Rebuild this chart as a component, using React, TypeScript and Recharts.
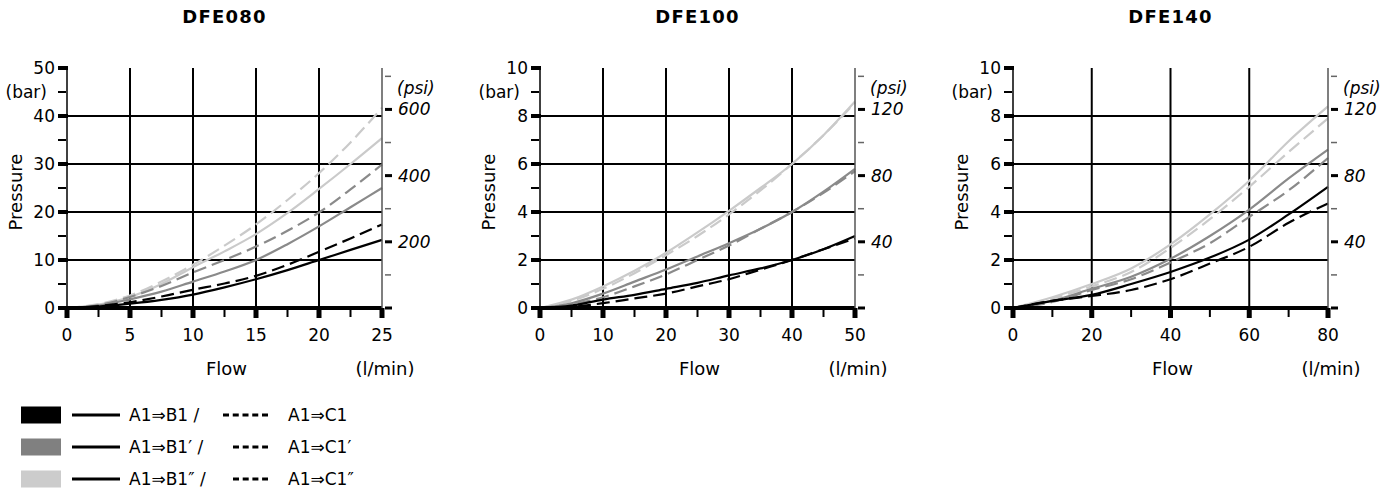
import { LineChart, Line, XAxis, YAxis, ReferenceLine } from "recharts";

// flow points (l/min) and pressure readings (bar) per valve size
const FLOW_080 = [0, 2.5, 5, 7.5, 10, 12.5, 15, 17.5, 20, 22.5, 25];
const B1_080 = [0, 0.3, 0.9, 1.7, 2.8, 4.3, 6, 7.9, 10, 12.1, 14.2];
const C1_080 = [0, 0.4, 1.2, 2.4, 3.8, 5.1, 6.7, 9, 11.7, 14.5, 17.4];
const B1P_080 = [0, 0.5, 1.8, 3.4, 5.5, 7.6, 10, 13.3, 17, 21, 25];
const C1P_080 = [0, 0.6, 2.3, 4.6, 7.4, 10, 12.8, 16.1, 19.9, 24.7, 29.9];
const B1PP_080 = [0, 0.7, 2.3, 5, 8.5, 11.8, 15.4, 19.8, 24.8, 30, 35.4];
const C1PP_080 = [0, 0.8, 2.6, 5.5, 9, 13, 17.4, 22.5, 28.1, 34.5, 41.7];

const FLOW_100 = [0, 5, 10, 15, 20, 25, 30, 35, 40, 45, 50];
const B1_100 = [0, 0.1, 0.35, 0.55, 0.8, 1.05, 1.36, 1.65, 2.0, 2.45, 3.0];
const C1_100 = [0, 0.05, 0.2, 0.4, 0.6, 0.9, 1.2, 1.6, 2.0, 2.45, 2.9];
const B1P_100 = [0, 0.2, 0.6, 1.1, 1.6, 2.15, 2.7, 3.3, 4.0, 4.85, 5.8];
const C1P_100 = [0, 0.15, 0.45, 0.9, 1.4, 2.0, 2.6, 3.3, 4.0, 4.8, 5.7];
const B1PP_100 = [0, 0.35, 0.9, 1.55, 2.3, 3.15, 4.05, 5.0, 6.0, 7.2, 8.6];
const C1PP_100 = [0, 0.3, 0.8, 1.45, 2.2, 3.0, 3.9, 4.9, 6.0, 7.2, 8.55];

const FLOW_140 = [0, 10, 20, 30, 40, 50, 60, 70, 80];
const B1_140 = [0, 0.3, 0.55, 1.0, 1.5, 2.1, 2.85, 3.9, 5.05];
const C1_140 = [0, 0.3, 0.5, 0.75, 1.2, 1.85, 2.55, 3.55, 4.35];
const B1P_140 = [0, 0.3, 0.8, 1.3, 2.05, 3.0, 4.1, 5.4, 6.6];
const C1P_140 = [0, 0.25, 0.75, 1.2, 1.9, 2.7, 3.8, 4.9, 6.25];
const B1PP_140 = [0, 0.45, 1.0, 1.65, 2.65, 3.9, 5.3, 6.95, 8.4];
const C1PP_140 = [0, 0.4, 0.9, 1.5, 2.5, 3.7, 5.05, 6.5, 7.9];

const TITLES = ["DFE080", "DFE100", "DFE140"];
const LEGEND_B = ["A1⇒B1 /", "A1⇒B1′ /", "A1⇒B1″ /"];
const LEGEND_C = ["A1⇒C1", "A1⇒C1′", "A1⇒C1″"];

const BAR_TO_PSI = 14.5038;
const FONT = "'DejaVu Sans', sans-serif";
const BLACK = "#000000";
const GRAY = "#8a8a8a";
const LIGHT = "#cacaca";

const W = 450;
const H = 400;
const MARGIN = { top: 68, right: 8, bottom: 52, left: 7 };
const PLOT_L = 67;
const PLOT_R = 382;
const OFFSET = 473;

const range = (step: number, max: number) => {
  const out: number[] = [];
  for (let i = 0; i <= Math.round(max / step); i++) out.push(+(i * step).toFixed(3));
  return out;
};
const isMul = (v: number, m: number) => Math.abs(v / m - Math.round(v / m)) < 1e-6;

const rows = (flow: number[], s: number[][]) =>
  flow.map((x, i) => ({ x, b1: s[0][i], c1: s[1][i], b1p: s[2][i], c1p: s[3][i], b1pp: s[4][i], c1pp: s[5][i] }));

const PANELS = [
  { data: rows(FLOW_080, [B1_080, C1_080, B1P_080, C1P_080, B1PP_080, C1PP_080]), xMax: 25, xStep: 2.5, xMajor: 5, yMax: 50, yStep: 5, yMajor: 10, psiStep: 100, psiMajor: 200, psiTop: 600 },
  { data: rows(FLOW_100, [B1_100, C1_100, B1P_100, C1P_100, B1PP_100, C1PP_100]), xMax: 50, xStep: 5, xMajor: 10, yMax: 10, yStep: 1, yMajor: 2, psiStep: 20, psiMajor: 40, psiTop: 120 },
  { data: rows(FLOW_140, [B1_140, C1_140, B1P_140, C1P_140, B1PP_140, C1PP_140]), xMax: 80, xStep: 10, xMajor: 20, yMax: 10, yStep: 1, yMajor: 2, psiStep: 20, psiMajor: 40, psiTop: 120 },
];

const SERIES = [
  { key: "c1pp", color: LIGHT, dash: "13 6" },
  { key: "b1pp", color: LIGHT },
  { key: "c1p", color: GRAY, dash: "13 6" },
  { key: "b1p", color: GRAY },
  { key: "c1", color: BLACK, dash: "13 6" },
  { key: "b1", color: BLACK },
];

const txt = { fontFamily: FONT, fontSize: 17, fill: "#000" };

const Panel = ({ p }: { p: (typeof PANELS)[number] }) => {
  const xTicks = range(p.xStep, p.xMax);
  const yTicks = range(p.yStep, p.yMax);
  const psiTicks = range(p.psiStep, p.yMax * BAR_TO_PSI);
  const unitAt = p.yMax - p.yStep;

  return (
    <LineChart width={W} height={H} data={p.data} margin={MARGIN}>
      <XAxis
        dataKey="x" type="number" domain={[0, p.xMax]} ticks={xTicks} interval={0} height={40}
        tickSize={0} tickMargin={0} axisLine={{ stroke: BLACK, strokeWidth: 4 }} tickLine={false}
        tick={(t: any) => {
          const v = t.payload.value;
          const major = isMul(v, p.xMajor);
          return (
            <g>
              {major
                ? <rect x={t.x - 2.5} y={t.y} width={5} height={10} fill={BLACK} />
                : <rect x={t.x - 1} y={t.y} width={2} height={9} fill={BLACK} />}
              {major && <text x={t.x} y={t.y + 33} textAnchor="middle" {...txt}>{v}</text>}
            </g>
          );
        }}
      />
      <YAxis
        yAxisId="bar" domain={[0, p.yMax]} ticks={yTicks} interval={0} width={60}
        tickSize={0} tickMargin={0} axisLine={{ stroke: BLACK, strokeWidth: 1.5 }} tickLine={false}
        tick={(t: any) => {
          const v = t.payload.value;
          const major = isMul(v, p.yMajor);
          return (
            <g>
              {major
                ? <rect x={t.x - 9} y={t.y - 2} width={10} height={4} fill={BLACK} />
                : <rect x={t.x - 9} y={t.y - 1} width={8} height={2} fill={BLACK} />}
              {major && <text x={t.x - 12} y={t.y + 6} textAnchor="end" {...txt}>{v}</text>}
              {v === unitAt && <text x={t.x - 20} y={t.y + 6} textAnchor="end" {...txt}>(bar)</text>}
            </g>
          );
        }}
      />
      <YAxis
        yAxisId="psi" orientation="right" domain={[0, p.yMax * BAR_TO_PSI]} ticks={psiTicks} interval={0} width={60}
        allowDataOverflow tickSize={0} tickMargin={0} axisLine={{ stroke: "#555", strokeWidth: 1.5 }} tickLine={false}
        tick={(t: any) => {
          const v = t.payload.value;
          const major = isMul(v, p.psiMajor);
          const it = { ...txt, fontStyle: "italic" };
          return (
            <g>
              {major
                ? <rect x={t.x + 3} y={t.y - 1.5} width={7} height={3} fill={BLACK} />
                : <rect x={t.x + 3} y={t.y - 0.75} width={6} height={1.5} fill="#666" />}
              {major && v > 0 && <text x={t.x + 16} y={t.y + 6} {...it}>{v}</text>}
              {v === p.psiTop && <text x={t.x + 15} y={t.y - 15} {...it}>(psi)</text>}
            </g>
          );
        }}
      />
      {yTicks.filter((v) => v > 0 && v < p.yMax && isMul(v, p.yMajor)).map((v) => (
        <ReferenceLine key={"h" + v} yAxisId="bar" y={v} stroke={BLACK} strokeWidth={2} />
      ))}
      {xTicks.filter((v) => v > 0 && v < p.xMax && isMul(v, p.xMajor)).map((v) => (
        <ReferenceLine key={"v" + v} yAxisId="bar" x={v} stroke={BLACK} strokeWidth={2} />
      ))}
      {SERIES.map((s) => (
        <Line key={s.key} yAxisId="bar" type="monotone" dataKey={s.key} stroke={s.color} strokeWidth={2.2}
          strokeDasharray={s.dash} dot={false} activeDot={false} isAnimationActive={false} />
      ))}
    </LineChart>
  );
};

export default function App() {
  const mid = (PLOT_L + PLOT_R) / 2;
  return (
    <div style={{ position: "absolute", left: 0, top: 0, width: 1399, height: 490, overflow: "hidden", background: "#fff" }}>
      <svg width={1399} height={490} style={{ position: "absolute", left: 0, top: 0 }}>
        {TITLES.map((t, i) => (
          <g key={t}>
            <text x={mid + i * OFFSET} y={23} textAnchor="middle" fontFamily={FONT} fontWeight="bold" fontSize={18} letterSpacing={1.2}>{t}</text>
            <text x={mid + 2 + i * OFFSET} y={375} textAnchor="middle" fontFamily={FONT} fontSize={18}>Flow</text>
            <text x={PLOT_R + 3 + i * OFFSET} y={375} textAnchor="middle" fontFamily={FONT} fontSize={18}>(l/min)</text>
            <text transform={`translate(${22 + i * OFFSET},192) rotate(-90)`} textAnchor="middle" fontFamily={FONT} fontSize={18}>Pressure</text>
          </g>
        ))}
        {[BLACK, "#808080", "#cccccc"].map((c, i) => {
          const cy = 415 + i * 32;
          return (
            <g key={c}>
              <rect x={21} y={cy - 8.5} width={40} height={17} fill={c} />
              <line x1={72} x2={120} y1={cy} y2={cy} stroke={BLACK} strokeWidth={3} />
              <text x={129} y={cy + 6} {...txt}>{LEGEND_B[i]}</text>
              <line x1={i === 0 ? 223 : 233} x2={268} y1={cy} y2={cy} stroke={BLACK} strokeWidth={3}
                strokeDasharray={i === 0 ? "6 3.75" : "6 3.7"} />
              <text x={288} y={cy + 6} {...txt}>{LEGEND_C[i]}</text>
            </g>
          );
        })}
      </svg>
      {PANELS.map((p, i) => (
        <div key={i} style={{ position: "absolute", left: i * OFFSET, top: 0 }}>
          <Panel p={p} />
        </div>
      ))}
    </div>
  );
}
